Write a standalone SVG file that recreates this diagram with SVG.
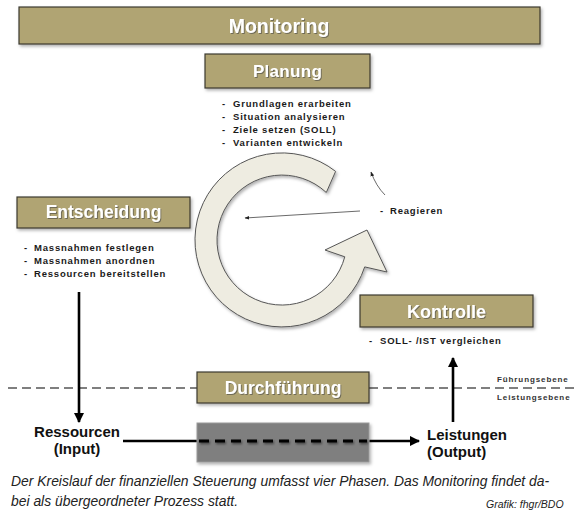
<svg xmlns="http://www.w3.org/2000/svg" width="577" height="515" viewBox="0 0 577 515">
<defs>
<filter id="sh" x="-10%" y="-20%" width="125%" height="150%">
<feDropShadow dx="1.5" dy="2" stdDeviation="1.5" flood-color="#000" flood-opacity="0.3"/>
</filter>
<filter id="tsh" x="-10%" y="-20%" width="120%" height="150%">
<feDropShadow dx="1" dy="1" stdDeviation="0.6" flood-color="#444" flood-opacity="0.6"/>
</filter>
<filter id="lsh" filterUnits="userSpaceOnUse" x="190" y="430" width="190" height="24">
<feDropShadow dx="1" dy="1.5" stdDeviation="1.2" flood-color="#000" flood-opacity="0.5"/>
</filter>
<marker id="ah" viewBox="0 0 10 10" refX="9" refY="5" markerWidth="4" markerHeight="4" orient="auto" markerUnits="strokeWidth">
<path d="M0,0 L10,5 L0,10 Z" fill="#000"/>
</marker>
<marker id="ahs" viewBox="0 0 10 10" refX="9" refY="5" markerWidth="6" markerHeight="6" orient="auto" markerUnits="strokeWidth">
<path d="M0,1 L10,5 L0,9 Z" fill="#222"/>
</marker>
</defs>
<style>
.box{fill:#b0a473;stroke:#3c3a30;stroke-width:1.2;filter:url(#sh)}
.bt{font-family:"Liberation Sans",Arial,sans-serif;font-weight:bold;fill:#fff;text-anchor:middle;filter:url(#tsh)}
.bl{font-family:"Liberation Sans",Arial,sans-serif;font-weight:bold;font-size:9.5px;letter-spacing:0.8px;fill:#1a1a1a}
.big{font-family:"Liberation Sans",Arial,sans-serif;font-weight:bold;font-size:15px;fill:#111}
.lvl{font-family:"Liberation Sans",Arial,sans-serif;font-weight:bold;font-size:8px;letter-spacing:0.9px;fill:#333}
.cap{font-family:"Liberation Sans",Arial,sans-serif;font-style:italic;font-size:13.9px;fill:#222}
.src{font-family:"Liberation Sans",Arial,sans-serif;font-style:italic;font-size:10.5px;fill:#222}
.thick{stroke:#000;stroke-width:2.6;fill:none}
.thin{stroke:#444;stroke-width:0.8;fill:none}
.lvlline{stroke:#555;stroke-width:1.5;stroke-dasharray:9 5;fill:none}
</style>

<g id="cycle">
<path d="M335.6,171.4 A87,87 0 1 0 364.7,266.9 L387,272 L367,230 L325,250 L344.8,256.8 A65,65 0 1 1 326.3,192.5 Z" fill="#eeece1" stroke="#555" stroke-width="1" filter="url(#sh)"/>
</g>

<g id="connectors">
<line class="lvlline" x1="8" y1="388" x2="197" y2="388"/>
<line class="lvlline" x1="369" y1="388" x2="577" y2="388"/>
<line class="thick" x1="79" y1="292" x2="79" y2="422" marker-end="url(#ah)"/>
<line class="thick" x1="453" y1="422" x2="453" y2="358" marker-end="url(#ah)"/>
<line class="thick" x1="123" y1="441" x2="419" y2="441" marker-end="url(#ah)"/>
<path class="thin" d="M385,195 Q376,186 371,172" marker-end="url(#ahs)"/>
<line class="thin" x1="360" y1="211" x2="245" y2="218" marker-end="url(#ahs)"/>
</g>

<g id="monitoring">
<rect class="box" x="19" y="7" width="521" height="37"/>
<text class="bt" x="279" y="33" font-size="19.5">Monitoring</text>
</g>

<g id="planung">
<rect class="box" x="205" y="54" width="165" height="34"/>
<text class="bt" x="287.5" y="77" font-size="17" letter-spacing="0.3">Planung</text>
<text class="bl" y="106.5"><tspan x="222">-</tspan><tspan x="233">Grundlagen erarbeiten</tspan></text>
<text class="bl" y="119.5"><tspan x="222">-</tspan><tspan x="233">Situation analysieren</tspan></text>
<text class="bl" y="132.5"><tspan x="222">-</tspan><tspan x="233">Ziele setzen (SOLL)</tspan></text>
<text class="bl" y="145.5"><tspan x="222">-</tspan><tspan x="233">Varianten entwickeln</tspan></text>
</g>

<g id="entscheidung">
<rect class="box" x="17" y="197" width="173" height="31"/>
<text class="bt" x="103.5" y="218" font-size="17.5">Entscheidung</text>
<text class="bl" y="250.5"><tspan x="24">-</tspan><tspan x="34">Massnahmen festlegen</tspan></text>
<text class="bl" y="263.5"><tspan x="24">-</tspan><tspan x="34">Massnahmen anordnen</tspan></text>
<text class="bl" y="276.5"><tspan x="24">-</tspan><tspan x="34">Ressourcen bereitstellen</tspan></text>
</g>

<g id="reagieren">
<text class="bl" y="213.5"><tspan x="380">-</tspan><tspan x="390">Reagieren</tspan></text>
</g>

<g id="kontrolle">
<rect class="box" x="360" y="295" width="173" height="32"/>
<text class="bt" x="446.5" y="317.5" font-size="18">Kontrolle</text>
<text class="bl" y="343.5"><tspan x="369">-</tspan><tspan x="380">SOLL- /IST vergleichen</tspan></text>
</g>

<g id="durchfuehrung">
<rect class="box" x="197" y="372" width="172" height="31"/>
<text class="bt" x="283" y="394" font-size="17.5">Durchführung</text>
</g>

<g id="prozess">
<rect x="197" y="423" width="172" height="39" fill="#7f7f7f" stroke="#9a9a9a" stroke-width="1" filter="url(#sh)"/>
<line x1="199" y1="441" x2="367" y2="441" stroke="#000" stroke-width="3" stroke-dasharray="10 6" filter="url(#lsh)"/>
</g>

<g id="ebenen">
<text class="lvl" x="497" y="382">Führungsebene</text>
<text class="lvl" x="497" y="400">Leistungsebene</text>
</g>

<g id="input">
<text class="big" x="77" y="437" text-anchor="middle">Ressourcen</text>
<text class="big" x="77" y="454" text-anchor="middle">(Input)</text>
</g>

<g id="output">
<text class="big" x="427" y="440">Leistungen</text>
<text class="big" x="427" y="457">(Output)</text>
</g>

<g id="caption">
<text class="cap" x="11" y="486">Der Kreislauf der finanziellen Steuerung umfasst vier Phasen. Das Monitoring findet da-</text>
<text class="cap" x="11" y="506">bei als übergeordneter Prozess statt.</text>
<text class="src" x="486" y="508">Grafik: fhgr/BDO</text>
</g>
</svg>
